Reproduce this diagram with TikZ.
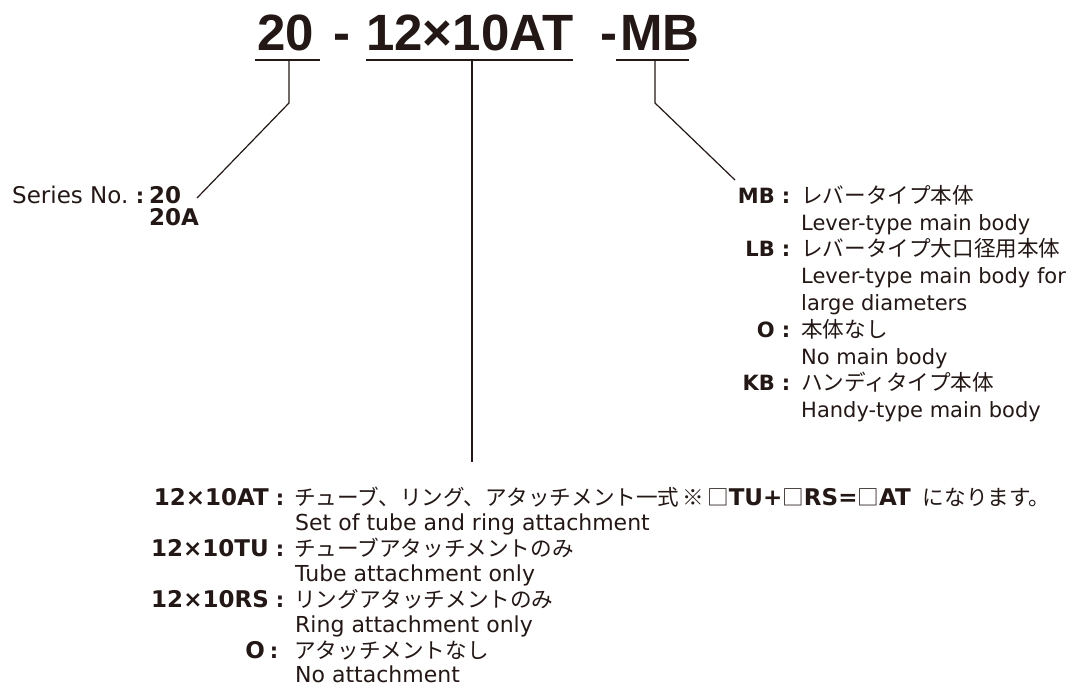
\documentclass[tikz,border=0pt]{standalone}
\usepackage{fontspec}
\setmainfont{DejaVu Sans}
\newfontfamily\jpfont{Noto Sans CJK JP}
\newfontfamily\titlefont{Liberation Sans}
\definecolor{ink}{RGB}{35,24,21}
\newcommand\kb[1]{{\normalfont\bfseries\fontsize{23}{25}\selectfont #1}}
\tikzset{
  txt/.style={inner sep=0pt, anchor=base west, font=\fontsize{21}{25}\selectfont, text=ink},
  txtb/.style={inner sep=0pt, anchor=base west, text depth=0pt, font=\fontsize{22}{25}\selectfont, text=ink},
  jp/.style={inner sep=0pt, anchor=base west, font=\jpfont\fontsize{21.6}{25}\selectfont, text=ink},
  key/.style={inner sep=0pt, anchor=base east, font=\bfseries\fontsize{21}{25}\selectfont, text=ink},
  keyb/.style={inner sep=0pt, anchor=base east, font=\bfseries\fontsize{23}{25}\selectfont, text=ink},
  colon/.style={inner sep=0pt, anchor=base, font=\bfseries\fontsize{21}{25}\selectfont, text=ink},
  ttl/.style={inner sep=0pt, anchor=base, font=\titlefont\bfseries\fontsize{51}{60}\selectfont, text=ink},
  uline/.style={draw=ink, line width=1.4pt},
  conn/.style={draw=ink, line width=1.2pt},
}
\begin{document}
\begin{tikzpicture}[x=1pt,y=-1pt]
\useasboundingbox[fill=white] (0,0) rectangle (1078,686);

% title
\node[ttl] (t20) at (286,50) {20};
\node[ttl] (d1) at (342,50) {-};
\node[ttl] (tmid) at (470,50) {12×10AT};
\node[ttl] (d2) at (609,50) {-};
\node[ttl] (tmb) at (660,50) {MB};

% underlines
\coordinate (u1a) at (255,60); \coordinate (u1b) at (320,60);
\coordinate (u2a) at (366,60); \coordinate (u2b) at (573,60);
\coordinate (u3a) at (616,60); \coordinate (u3b) at (689,60);
\draw[uline] (u1a) -- (u1b);
\draw[uline] (u2a) -- (u2b);
\draw[uline] (u3a) -- (u3b);

% connectors
\coordinate (c1a) at (289,60); \coordinate (c1b) at (289,103); \coordinate (c1c) at (197,198);
\coordinate (c2a) at (472,60); \coordinate (c2b) at (472,462);
\coordinate (c3a) at (655,60); \coordinate (c3b) at (655,103); \coordinate (c3c) at (735,180);
\draw[conn] (c1a) -- (c1b) -- (c1c);
\draw[conn] (c2a) -- (c2b);
\draw[conn] (c3a) -- (c3b) -- (c3c);

% series
\node[txt, font=\fontsize{23}{25}\selectfont] (ser) at (12,203) {Series No.};
\node[colon] (sc) at (140,203) {:};
\node[txt, font=\bfseries\fontsize{23}{25}\selectfont] (s20) at (149,203) {20};
\node[txt, font=\bfseries\fontsize{23}{25}\selectfont] (s20a) at (149,225) {20A};

% right block
\node[key] (kmb) at (775,203) {MB};
\node[colon] (cmb) at (786,203) {:};
\node[jp] (jmb) at (801,203) {レバータイプ本体};
\node[txt] (emb) at (801,230) {Lever-type main body};
\node[key] (klb) at (775,256) {LB};
\node[colon] (clb) at (786,256) {:};
\node[jp] (jlb) at (801,256) {レバータイプ大口径用本体};
\node[txt] (elb) at (801,283) {Lever-type main body for};
\node[txt] (elb2) at (801,310) {large diameters};
\node[key] (ko) at (775,337) {O};
\node[colon] (co) at (786,337) {:};
\node[jp] (jo) at (801,337) {本体なし};
\node[txt] (eo) at (801,364) {No main body};
\node[key] (kkb) at (775,390) {KB};
\node[colon] (ckb) at (786,390) {:};
\node[jp] (jkb) at (801,390) {ハンディタイプ本体};
\node[txt] (ekb) at (801,417) {Handy-type main body};

% bottom block
\node[keyb] (kat) at (269,505) {12×10AT};
\node[colon] (cat) at (280,505) {:};
\node[jp] (jat) at (294,505) {チューブ、リング、アタッチメント一式\kern3pt※\kern3pt□\kb{TU+}□\kb{RS=}□\kb{AT}\kern12pt になります。};
\node[txtb] (eat) at (295,530) {Set of tube and ring attachment};
\node[keyb] (ktu) at (269,556) {12×10TU};
\node[colon] (ctu) at (280,556) {:};
\node[jp] (jtu) at (294,556) {チューブアタッチメントのみ};
\node[txtb] (etu) at (295,581) {Tube attachment only};
\node[keyb] (krs) at (269,607) {12×10RS};
\node[colon] (crs) at (280,607) {:};
\node[jp] (jrs) at (294,607) {リングアタッチメントのみ};
\node[txtb] (ers) at (295,632) {Ring attachment only};
\node[keyb] (k0) at (265,658) {O};
\node[colon] (c0) at (274,658) {:};
\node[jp] (j0) at (294,658) {アタッチメントなし};
\node[txtb] (e0) at (295,682) {No attachment};
\end{tikzpicture}
\end{document}
